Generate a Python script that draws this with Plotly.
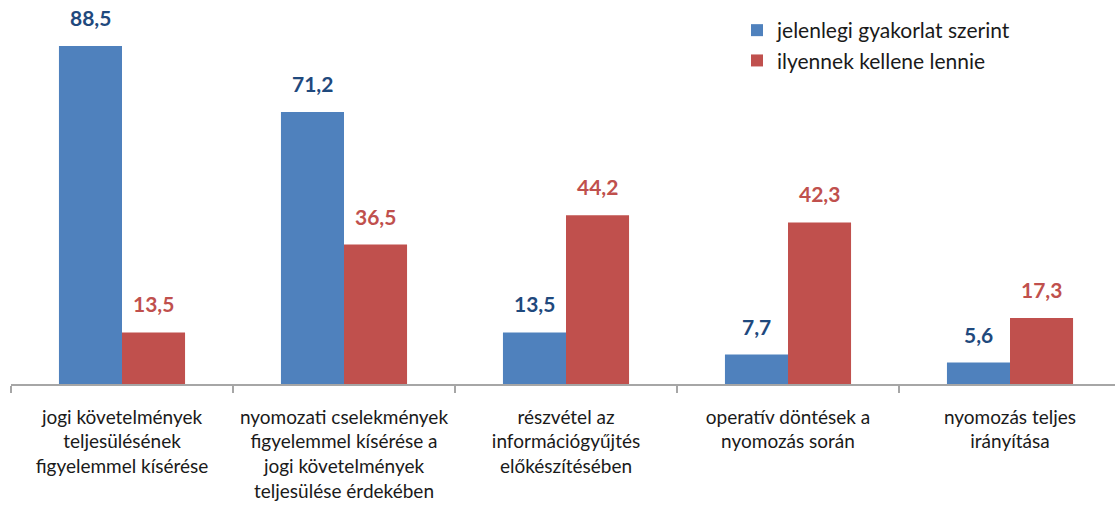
import plotly.graph_objects as go

categories = [
    "jogi követelmények<br>teljesülésének<br>figyelemmel kísérése",
    "nyomozati cselekmények<br>figyelemmel kísérése a<br>jogi követelmények<br>teljesülése érdekében",
    "részvétel az<br>információgyűjtés<br>előkészítésében",
    "operatív döntések a<br>nyomozás során",
    "nyomozás teljes<br>irányítása",
]
series_names = ["jelenlegi gyakorlat szerint", "ilyennek kellene lennie"]
current_values = [88.5, 71.2, 13.5, 7.7, 5.6]
desired_values = [13.5, 36.5, 44.2, 42.3, 17.3]

bar_colors = ["#4F81BD", "#C0504D"]
label_colors = ["#1F497D", "#C0504D"]
FONT = "Lato, 'Open Sans', sans-serif"

W, H = 1115, 510
ml, mr, mt, mb = 11, 0, 2, 126
pw = W - ml - mr
cat_px = 222

fig = go.Figure()
for name, vals, col in zip(series_names, [current_values, desired_values], bar_colors):
    fig.add_trace(go.Bar(
        x=categories, y=vals, name=name, marker_color=col,
        marker_line_width=0,
    ))

half = cat_px * (1 - 0.432) / 4
for i, (vals, lc) in enumerate(zip([current_values, desired_values], label_colors)):
    for c, v in zip(categories, vals):
        fig.add_annotation(
            x=c, y=v, xref="x", yref="y",
            text=f"{v:.1f}".replace(".", ","),
            showarrow=False, yanchor="bottom",
            xshift=(-half if i == 0 else half), yshift=14,
            font=dict(family=FONT, size=21, color=lc, weight="bold"),
        )

fig.update_layout(
    width=W, height=H,
    margin=dict(l=ml, r=mr, t=mt, b=mb, autoexpand=False),
    paper_bgcolor="white", plot_bgcolor="white",
    barmode="group", bargap=0.432, bargroupgap=0,
    font=dict(family=FONT, size=19, color="#1a1a1a"),
    showlegend=True,
    legend=dict(
        x=(737 - ml) / pw, y=1 - (10 - mt) / (H - mt - mb),
        xanchor="left", yanchor="top",
        font=dict(family=FONT, size=21, color="#1a1a1a"),
        bgcolor="rgba(0,0,0,0)", itemwidth=30,
    ),
    xaxis=dict(
        range=[-0.5, -0.5 + pw / cat_px],
        automargin=False,
        showline=True, linecolor="#A6A6A6", linewidth=1.5,
        ticks="outside", tickson="boundaries", ticklen=7, tickcolor="#A6A6A6",
        tickwidth=1.5, showgrid=False, tickangle=0,
        ticklabelstandoff=15,
        tickfont=dict(family=FONT, size=19, color="#1a1a1a"),
    ),
    yaxis=dict(range=[0, 100], visible=False, showgrid=False, zeroline=False),
)

fig.write_html(
    "out.html",
    config={"displayModeBar": False},
    post_script="document.body.style.margin='0';",
)
